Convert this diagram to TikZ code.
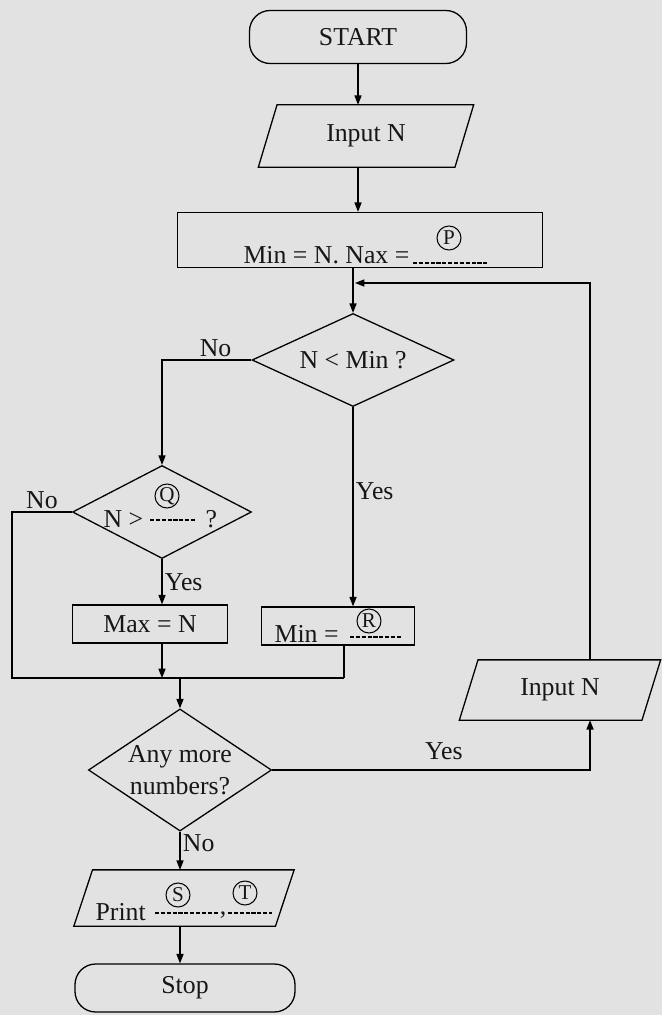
\documentclass[tikz,border=0pt]{standalone}
\usepackage{fontspec}
\setmainfont{Liberation Serif}
\usetikzlibrary{positioning,arrows.meta,shapes.geometric}
\definecolor{PaperGray}{HTML}{E2E2E2}
\definecolor{InkBlack}{HTML}{161616}

\begin{document}
\begin{tikzpicture}[x=0.03cm, y=-0.03cm, line width=1.1pt,
  every node/.style={font=\fontsize{22}{26}\selectfont, text=InkBlack},
  flow/.style={-{Triangle[length=8pt,width=6pt]}},
  terminal/.style={draw, rectangle, rounded corners=0.62cm, inner sep=0pt},
  io/.style={rectangle, inner sep=1pt, append after command={\pgfextra{
    \draw (\tikzlastnode.south west) -- ([xshift=0.56cm]\tikzlastnode.north west)
      -- (\tikzlastnode.north east) -- ([xshift=-0.56cm]\tikzlastnode.south east) -- cycle;}}},
  process/.style={draw, rectangle, inner sep=0pt},
  decision/.style={draw, diamond, aspect=2.2, inner sep=1pt, align=center},
  tag/.style={circle, draw, line width=0.9pt, inner sep=0pt, minimum size=0.72cm,
    font=\fontsize{18}{18}\selectfont},
  blank/.style={line width=1pt, dash pattern=on 3.5pt off 1.5pt},
  txt/.style={inner sep=0pt},
  lbl/.style={inner sep=2pt}]
  \useasboundingbox[fill=PaperGray] (0,0) rectangle (662,1015);

  % main column
  \node[terminal, minimum width=6.51cm, minimum height=1.59cm] (start) at (358,37) {START};
  \node[io, minimum width=6.42cm, minimum height=1.83cm] (in1) at (366,136) {Input N};
  \node[process, minimum width=10.95cm, minimum height=1.65cm] (init) at (360,240) {};
  \node[txt, anchor=base east] (initTxt) at (410,263) {Min = N. Nax =};
  \node[tag] (tagP) at (449,238) {P};
  \draw[blank] (413,263) -- (487,263);
  \coordinate (jn) at (355,283);

  % tests
  \node[decision, minimum width=6.06cm, minimum height=2.79cm] (d1) at (353,360) {N < Min ?};
  \node[decision, minimum width=5.37cm, minimum height=2.79cm] (d2) at (162,512) {};
  \node[txt, anchor=base west] (d2Txt) at (103,527) {N >};
  \node[tag] (tagQ) at (167,496) {Q};
  \draw[blank] (150,520) -- (196,520);
  \node[txt, anchor=base west] (d2Mark) at (205,527) {?};

  % updates
  \node[process, minimum width=4.65cm, minimum height=1.14cm] (maxb) at (150,624) {Max = N};
  \node[process, minimum width=4.59cm, minimum height=1.14cm] (minb) at (338,626) {};
  \node[txt, anchor=base west] (minTxt) at (274,642) {Min =};
  \node[tag] (tagR) at (369,621) {R};
  \draw[blank] (350,637) -- (401,637);
  \coordinate (mgL) at (12,678);
  \coordinate (mgR) at (344,678);

  % loop
  \node[decision, aspect=1.5, minimum width=5.34cm, minimum height=3.54cm,
    font=\fontsize{22}{27}\selectfont] (d3) at (180,770) {Any more\\numbers?};
  \node[io, minimum width=6.0cm, minimum height=1.77cm] (in2) at (560,690) {Input N};
  \coordinate (lp) at (590,283);

  % output
  \node[io, minimum width=6.57cm, minimum height=1.65cm] (prt) at (184,898) {};
  \node[txt, anchor=base west] (prtTxt) at (95,920) {Print};
  \node[tag] (tagS) at (178,895) {S};
  \draw[blank] (155,913) -- (219,913);
  \node[txt, anchor=base] (comma) at (223,914) {,};
  \node[tag] (tagT) at (245,893) {T};
  \draw[blank] (228,913) -- (272,913);
  \node[terminal, minimum width=6.6cm, minimum height=1.44cm] (stop) at (185,988) {Stop};

  % connectors
  \draw[flow] (start.south) -- (start.south |- in1.north);
  \draw[flow] (in1.south -| start.south) -- (start.south |- init.north);
  \draw[flow] (init.south -| d1.north) -- (d1.north);
  \draw[flow] (in2.north -| lp) |- (jn);
  \draw[flow] (d1.west) -| (d2.north) node[lbl, pos=0.2, above] {No};
  \draw[flow] (d1.south) -- (d1.south |- minb.north) node[lbl, pos=0.42, right] {Yes};
  \draw[flow] (d2.south) -- (d2.south |- maxb.north) node[lbl, midway, right] {Yes};
  \draw (d2.west) -| (mgL) node[lbl, pos=0.25, above] {No} -- (mgR);
  \draw (minb.south -| mgR) -- (mgR);
  \draw[flow] (maxb.south -| d2.south) -- (d2.south |- mgL);
  \draw[flow] (d3.north |- mgL) -- (d3.north);
  \draw[flow] (d3.east) -| (in2.south -| lp) node[lbl, pos=0.27, above=6pt] {Yes};
  \draw[flow] (d3.south) -- (d3.south |- prt.north) node[lbl, pos=0.3, right] {No};
  \draw[flow] (prt.south -| d3.south) -- (d3.south |- stop.north);
\end{tikzpicture}
\end{document}
